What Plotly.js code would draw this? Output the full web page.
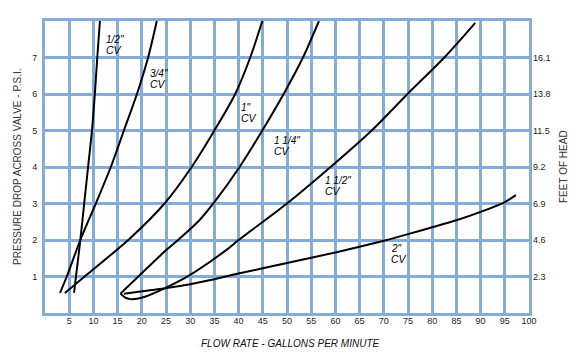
<!DOCTYPE html>
<html>
<head>
<meta charset="utf-8">
<script src="https://cdn.plot.ly/plotly-3.0.1.min.js"></script>
<style>html,body{margin:0;padding:0;background:#fff}#chart{width:582px;height:353px}</style>
</head>
<body>
<div id="chart"></div>
<script>
// ---- data ----
const sizeLabels = ['1/2"', '3/4"', '1"', '1 1/4"', '1 1/2"', '2"'];

const halfX = [6.0, 6.4, 7.3, 8.1, 8.9, 9.7, 10.3, 10.8, 11.35];
const halfY = [0.55, 1, 2, 3, 4, 5, 6, 7, 8];

const threeQX = [3.1, 4.5, 7.3, 10.5, 13.6, 16.3, 19.0, 21.3, 23.1];
const threeQY = [0.55, 1, 2, 3, 4, 5, 6, 7, 8];

const oneX = [4.1, 8.2, 17.6, 24.7, 30.3, 35.0, 39.3, 42.4, 44.9];
const oneY = [0.55, 1, 2.05, 3, 4, 5, 6, 7, 8];

const oneQX = [15.6, 25.1, 27.5, 31.9, 35.3, 40.2, 44.9, 49.3, 53.3, 56.6];
const oneQY = [0.53, 1.73, 2, 2.54, 3.09, 4, 5, 6, 7, 8];

const oneHX = [15.6, 16.5, 17.6, 19.0, 21.0, 24.8, 29.2, 37.5, 40, 50, 59, 67.5, 74.9, 82.5, 88.9];
const oneHY = [0.53, 0.43, 0.38, 0.39, 0.46, 0.68, 0.98, 1.73, 2, 3, 4, 5, 6, 7, 7.95];

const twoX = [16.3, 24.8, 30, 40, 50, 60, 70, 75, 80, 85, 90, 95, 97.3];
const twoY = [0.53, 0.68, 0.79, 1.08, 1.37, 1.66, 1.98, 2.16, 2.35, 2.54, 2.77, 3.04, 3.23];

const xTicks = [5, 10, 15, 20, 25, 30, 35, 40, 45, 50, 55, 60, 65, 70, 75, 80, 85, 90, 95, 100];
const psiTicks = [1, 2, 3, 4, 5, 6, 7];
const headTicks = [2.3, 4.6, 6.9, 9.2, 11.5, 13.8, 16.1];
const headTickText = ['2.3', '4.6', '6.9', '9.2', '11.5', '13.8', '16.1'];
const psiMax = 8;
const feetPerPsi = 2.3;

// ---- drawing ----
const FONT = 'Liberation Sans, Arial, Helvetica, sans-serif';
const GRID = '#84acd8';
const series = [[halfX, halfY], [threeQX, threeQY], [oneX, oneY], [oneQX, oneQY], [oneHX, oneHY], [twoX, twoY]];

const traces = series.map(s => ({
  x: s[0], y: s[1], type: 'scatter', mode: 'lines',
  line: {color: '#000', width: 2, shape: 'spline', smoothing: 0.8},
  hoverinfo: 'skip', showlegend: false
}));
// invisible trace so the right-hand (feet of head) axis is drawn
traces.push({x: [0], y: [0], yaxis: 'y2', type: 'scatter', mode: 'lines',
  line: {width: 0}, hoverinfo: 'skip', showlegend: false});

// label placement (data coords of the text left edge / middle)
const labelPos = [
  [12.3, 7.49, 7.20],
  [21.5, 6.56, 6.27],
  [40.3, 5.63, 5.34],
  [47.1, 4.73, 4.44],
  [57.6, 3.62, 3.33],
  [71.2, 1.77, 1.47]
];
const annotations = [];
labelPos.forEach((p, i) => {
  annotations.push({x: p[0], y: p[1], xref: 'x', yref: 'y', text: '<i>' + sizeLabels[i] + '</i>',
    showarrow: false, xanchor: 'left', yanchor: 'middle', borderpad: 0,
    font: {family: FONT, size: 10, color: '#000'}});
  annotations.push({x: p[0], y: p[2], xref: 'x', yref: 'y', text: '<i>CV</i>',
    showarrow: false, xanchor: 'left', yanchor: 'middle', borderpad: 0,
    font: {family: FONT, size: 10.5, color: '#000'}});
});
annotations.push({x: 0, y: 0.5, xref: 'paper', yref: 'paper', xshift: -28, textangle: -90,
  text: 'PRESSURE DROP ACROSS VALVE - P.S.I.', showarrow: false, xanchor: 'center', yanchor: 'middle',
  font: {family: FONT, size: 10, color: '#333'}});
annotations.push({x: 1, y: 0.5, xref: 'paper', yref: 'paper', xshift: 34, textangle: -90,
  text: 'FEET OF HEAD', showarrow: false, xanchor: 'center', yanchor: 'middle',
  font: {family: FONT, size: 10, color: '#333'}});
annotations.push({x: 0.5, y: 0, xref: 'paper', yref: 'paper', xshift: 3, yshift: -30,
  text: '<i>FLOW RATE - GALLONS PER MINUTE</i>', showarrow: false, xanchor: 'center', yanchor: 'middle',
  font: {family: FONT, size: 10, color: '#111'}});

const layout = {
  width: 582, height: 353,
  margin: {l: 45, r: 53, t: 21, b: 40, pad: 0},
  paper_bgcolor: '#fff', plot_bgcolor: '#fff',
  showlegend: false,
  font: {family: FONT, size: 9, color: '#222'},
  xaxis: {
    range: [0, 100], tickvals: xTicks, showgrid: true, gridcolor: GRID, gridwidth: 3,
    zeroline: false, showline: true, mirror: true, linecolor: GRID, linewidth: 3,
    ticks: '', ticklabelstandoff: -3, tickfont: {family: FONT, size: 9, color: '#222'}, fixedrange: true
  },
  yaxis: {
    range: [0, psiMax], tickvals: psiTicks, showgrid: true, gridcolor: GRID, gridwidth: 3,
    zeroline: false, showline: true, mirror: true, linecolor: GRID, linewidth: 3,
    ticks: '', ticklabelstandoff: 3, tickfont: {family: FONT, size: 9, color: '#222'}, fixedrange: true
  },
  yaxis2: {
    overlaying: 'y', side: 'right', range: [0, psiMax * feetPerPsi],
    tickvals: headTicks, ticktext: headTickText, showgrid: false, zeroline: false, showline: false,
    ticks: '', ticklabelstandoff: 3, tickfont: {family: FONT, size: 9, color: '#222'}, fixedrange: true
  },
  annotations: annotations
};

Plotly.newPlot('chart', traces, layout, {displayModeBar: false, staticPlot: true});
</script>
</body>
</html>
